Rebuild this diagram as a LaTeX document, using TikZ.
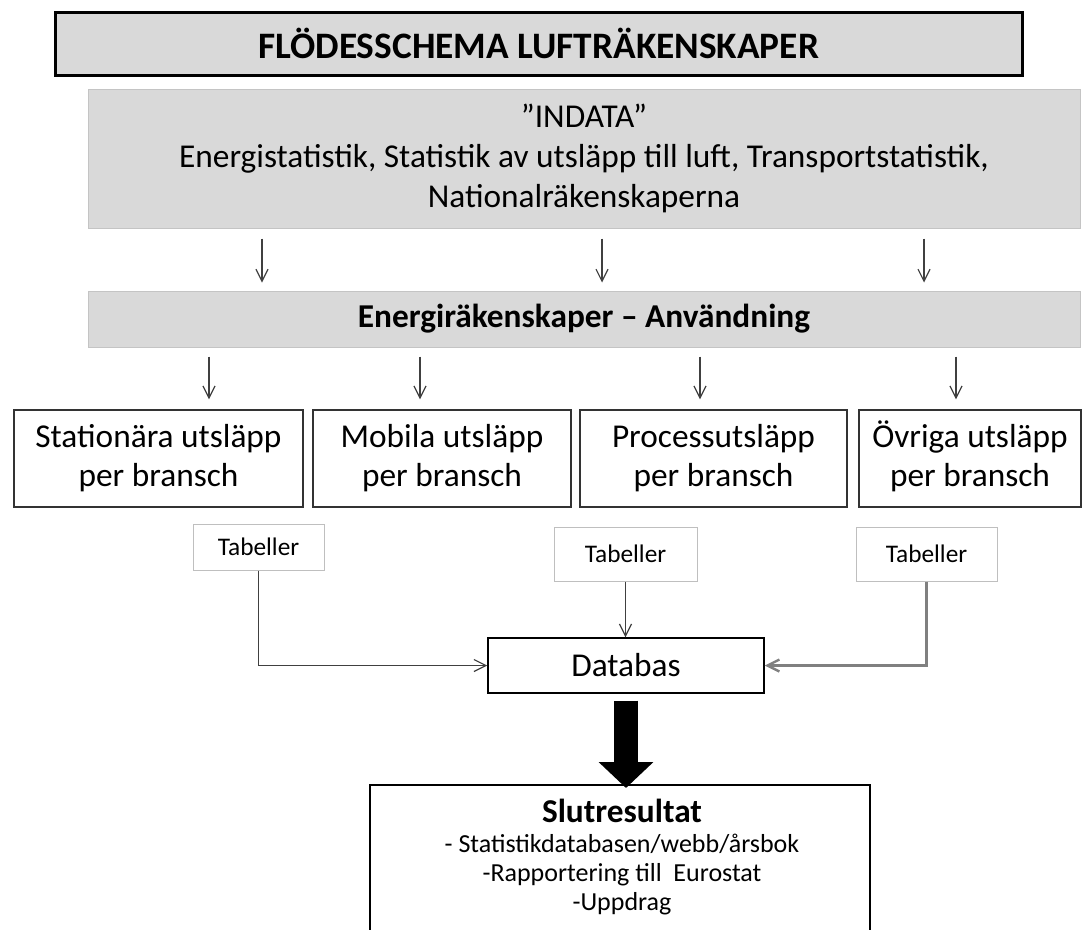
\documentclass[tikz,border=0pt]{standalone}
\usepackage{fontspec}
\setmainfont{Carlito}
\usetikzlibrary{arrows.meta}
\newdimen\pxu \pxu=0.75pt
\definecolor{boxgray}{RGB}{217,217,217}
\definecolor{edgegray}{RGB}{196,196,196}
\definecolor{linegray}{RGB}{64,64,64}
\definecolor{lightedge}{RGB}{191,191,191}
\definecolor{midgray}{RGB}{128,128,128}
\tikzset{
  titlebox/.style={draw=black, line width=2.25pt, fill=boxgray, inner sep=0pt,
    minimum width=967\pxu, minimum height=63\pxu, font=\fontsize{28}{34}\selectfont\bfseries},
  graybox/.style={draw=edgegray, line width=0.75pt, fill=boxgray, inner sep=0pt, align=center,
    minimum width=992\pxu, font=\fontsize{25}{30}\selectfont},
  catbox/.style={draw=black!80, line width=1.1pt, fill=white, inner sep=0pt, align=center,
    minimum height=97\pxu, font=\fontsize{25}{29.25}\selectfont},
  tabbox/.style={draw=lightedge, line width=0.75pt, fill=white, inner sep=0pt,
    font=\fontsize{19}{23}\selectfont},
  dbbox/.style={draw=black, line width=1.1pt, fill=white, inner sep=0pt,
    minimum width=276\pxu, minimum height=55\pxu, font=\fontsize{25}{30}\selectfont},
  frame/.style={draw=none, inner sep=0pt, minimum width=500\pxu, minimum height=144\pxu},
  frameline/.style={draw=black, line width=1.5pt},
  slutstyle/.style={inner sep=0pt, align=center, font=\fontsize{19.5}{22}\selectfont},
  thinarrow/.style={draw=linegray, line width=0.9pt, -{Straight Barb[length=9pt,width=9pt]}},
  grayarrow/.style={draw=midgray, line width=1.8pt, -{Straight Barb[length=9pt,width=9pt]}},
  thickarrow/.style={draw=black, line width=18pt, -{Triangle[length=19.5pt,width=40pt]}},
}
\begin{document}
\begin{tikzpicture}[x=0.75pt,y=-0.75pt]
\useasboundingbox (0,0) rectangle (1082,929);

% title
\node[titlebox] (title) at (538.5,43.5) {FLÖDESSCHEMA LUFTRÄKENSKAPER};

% input
\node[graybox, minimum height=139\pxu] (indata) at (584,158.5)
  {”INDATA”\\Energistatistik, Statistik av utsläpp till luft, Transportstatistik,\\Nationalräkenskaperna};

% energy accounts
\node[graybox, minimum height=56\pxu, font=\fontsize{25}{30}\selectfont\bfseries] (energi) at (584,319)
  {Energiräkenskaper – Användning};

% arrow columns
\coordinate (a1) at (262,0);
\coordinate (a2) at (602,0);
\coordinate (a3) at (924,0);
\coordinate (b1) at (209,0);
\coordinate (b2) at (420,0);
\coordinate (b3) at (700,0);
\coordinate (b4) at (956,0);

% category boxes
\node[catbox, minimum width=289\pxu] (stat) at (158.5,458.5) {Stationära utsläpp\\per bransch};
\node[catbox, minimum width=258\pxu] (mob) at (442,458.5) {Mobila utsläpp\\per bransch};
\node[catbox, minimum width=267\pxu] (proc) at (713.5,458.5) {Processutsläpp\\per bransch};
\node[catbox, minimum width=222\pxu] (ovr) at (970,458.5) {\smash{Ö}vriga utsläpp\\per bransch};

% tables
\node[tabbox, minimum width=131\pxu, minimum height=46\pxu] (tabA) at (258.5,547) {Tabeller};
\node[tabbox, minimum width=143\pxu, minimum height=54\pxu] (tabB) at (625.5,554) {Tabeller};
\node[tabbox, minimum width=141\pxu, minimum height=54\pxu] (tabC) at (926.5,554) {Tabeller};

% database
\node[dbbox] (db) at (626,665.5) {Databas};

% final result
\node[frame, anchor=north] (slutframe) at (620,785) {};
\node[slutstyle, anchor=north] (slut) at (622,799)
  {{\fontsize{25}{30}\selectfont\bfseries Slutresultat}\\- Statistikdatabasen/webb/årsbok\\-Rapportering till\ \ Eurostat\\-Uppdrag};
\draw[frameline] (slutframe.south west) -- (slutframe.north west) -- (slutframe.north east) -- (slutframe.south east);

% arrows indata -> energi
\foreach \c in {a1,a2,a3}
  \draw[thinarrow, shorten <=10\pxu, shorten >=8\pxu] (indata.south -| \c) -- (energi.north -| \c);

% arrows energi -> categories
\draw[thinarrow, shorten <=9\pxu, shorten >=10\pxu] (energi.south -| b1) -- (stat.north -| b1);
\draw[thinarrow, shorten <=9\pxu, shorten >=10\pxu] (energi.south -| b2) -- (mob.north -| b2);
\draw[thinarrow, shorten <=9\pxu, shorten >=10\pxu] (energi.south -| b3) -- (proc.north -| b3);
\draw[thinarrow, shorten <=9\pxu, shorten >=10\pxu] (energi.south -| b4) -- (ovr.north -| b4);

% tables -> database
\draw[thinarrow] (tabA.south) |- (db.west);
\draw[thinarrow] (tabB.south) -- (tabB.south |- db.north);
\draw[grayarrow] (tabC.south) |- (db.east);

% database -> final
\draw[thickarrow, shorten <=7\pxu, shorten >=-3\pxu] (db.south) -- (db.south |- slutframe.north);
\end{tikzpicture}
\end{document}
